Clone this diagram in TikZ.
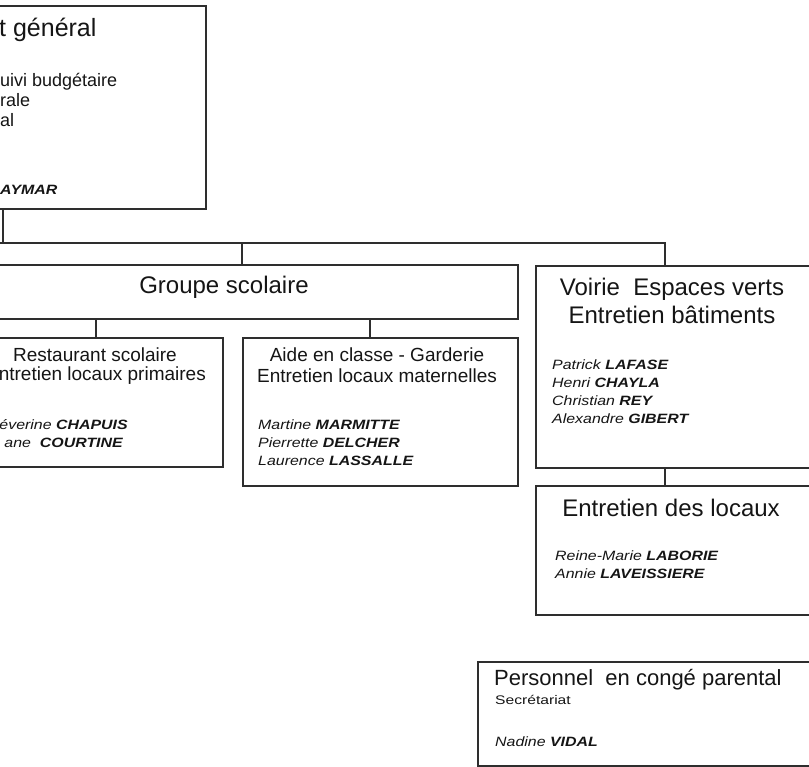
\documentclass[tikz,border=0pt]{standalone}
\usepackage{fontspec}
\setmainfont{Liberation Sans}
\newfontfamily\namefont[FakeStretch=1.18]{Liberation Sans}
\newfontfamily\smallfont[FakeStretch=1.25]{Liberation Sans}
\definecolor{linec}{HTML}{2E2E2E}
\definecolor{txt}{HTML}{151515}
\tikzset{
  box/.style={draw=linec, line width=2.2pt, anchor=north west, inner sep=0pt},
  link/.style={draw=linec, line width=2.2pt},
  lbl/.style={inner sep=0pt, text=txt},
  title/.style={lbl, font=\fontsize{24}{28}\selectfont, align=center},
  sub/.style={lbl, font=\fontsize{19}{21}\selectfont, align=center},
  names/.style={lbl, font=\namefont\itshape\fontsize{13.5}{18}\selectfont, align=left},
}
\newcommand{\surname}[1]{\textbf{#1}}
\begin{document}
\begin{tikzpicture}[x=1pt,y=-1pt]
\useasboundingbox (0,0) rectangle (809,767);
\clip (0,0) rectangle (809,767);

% boxes
\node[box, minimum width=235pt, minimum height=203pt] (sg) at (-30,5) {};
\node[box, minimum width=547pt, minimum height=54pt] (gs) at (-30,264) {};
\node[box, minimum width=252pt, minimum height=129pt] (rest) at (-30,337) {};
\node[box, minimum width=275pt, minimum height=148pt] (aide) at (242,337) {};
\node[box, minimum width=300pt, minimum height=202pt] (voirie) at (535,265) {};
\node[box, minimum width=300pt, minimum height=129pt] (ent) at (535,485) {};
\node[box, minimum width=360pt, minimum height=104pt] (pers) at (477,661) {};

% connectors
\coordinate (hub) at (3,243);
\coordinate (hubL) at (-10,243);
\coordinate (hubM) at (242,243);
\coordinate (hubR) at (665,243);
\coordinate (gsL) at (96,318);
\coordinate (gsR) at (370,318);
\draw[link] (sg.south -| hub) -- (hub);
\draw[link] (hubL) -- (hubR) -- (hubR |- voirie.north);
\draw[link] (hubM) -- (hubM |- gs.north);
\draw[link] (gs.south -| gsL) -- (rest.north -| gsL);
\draw[link] (gs.south -| gsR) -- (aide.north -| gsR);
\draw[link] (voirie.south -| hubR) -- (ent.north -| hubR);

% top box texts
\node[lbl, anchor=west, font=\fontsize{25}{28}\selectfont] (t1) at (-1,30) {t général};
\node[lbl, anchor=west, font=\fontsize{18}{20}\selectfont, align=left] (t2) at (0,100) {uivi budgétaire\\rale\\al};
\node[names, anchor=west] (t3) at (0,190) {\surname{AYMAR}};

% groupe scolaire
\node[title] (g1) at (224,287) {Groupe scolaire};

% restaurant
\node[sub] (r1) at (95,355) {Restaurant scolaire};
\node[sub, anchor=east] (r2) at (206,376) {ntretien locaux primaires};
\node[names, anchor=east] (r3) at (128,425) {éverine \surname{CHAPUIS}};
\node[names, anchor=east] (r4) at (123,443) {ane\ \ \surname{COURTINE}};

% aide en classe
\node[sub] (a1) at (377,365.5) {Aide en classe - Garderie\\Entretien locaux maternelles};
\node[names, anchor=west] (a2) at (258,442.5) {Martine \surname{MARMITTE}\\Pierrette \surname{DELCHER}\\Laurence \surname{LASSALLE}};

% voirie
\node[title] (v1) at (672,301) {Voirie\ \ Espaces verts\\Entretien bâtiments};
\node[names, anchor=west] (v2) at (552,392) {Patrick \surname{LAFASE}\\Henri \surname{CHAYLA}\\Christian \surname{REY}\\Alexandre \surname{GIBERT}};

% entretien des locaux
\node[title] (e1) at (671,508) {Entretien des locaux};
\node[names, anchor=west] (e2) at (555,565) {Reine-Marie \surname{LABORIE}\\Annie \surname{LAVEISSIERE}};

% personnel
\node[lbl, anchor=west, font=\fontsize{22}{24}\selectfont] (p1) at (494,680) {Personnel\ \ en congé parental};
\node[lbl, anchor=west, font=\smallfont\fontsize{12.5}{14}\selectfont] (p2) at (495,700) {Secrétariat};
\node[names, anchor=west] (p3) at (495,742) {Nadine \surname{VIDAL}};
\end{tikzpicture}
\end{document}
